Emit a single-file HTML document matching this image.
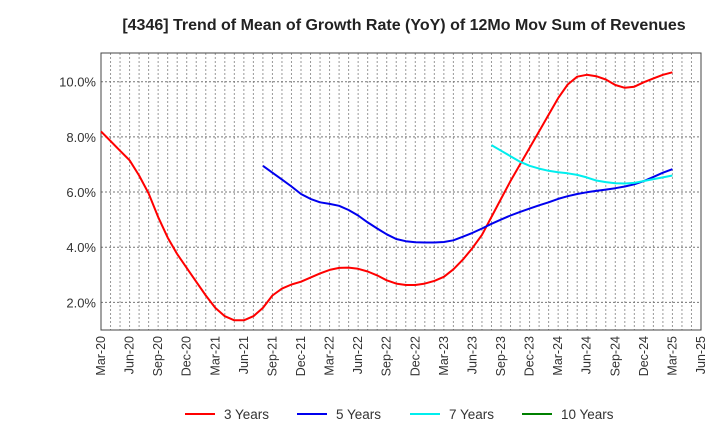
<!DOCTYPE html>
<html><head><meta charset="utf-8"><style>
body{margin:0;background:#fff;font-family:"Liberation Sans",sans-serif;}
svg text{font-family:"Liberation Sans",sans-serif;}
</style></head><body>
<svg id="c" width="720" height="440" xmlns="http://www.w3.org/2000/svg">
<text x="404" y="30" text-anchor="middle" font-size="16" font-weight="bold" fill="#222">[4346]  Trend of Mean of Growth Rate (YoY) of 12Mo Mov Sum of Revenues</text>
<g id="grid"></g><g id="axes"></g><g id="series"></g><g id="legend"></g>
</svg>
<script>
const xLabels=["Mar-20","Jun-20","Sep-20","Dec-20","Mar-21","Jun-21","Sep-21","Dec-21","Mar-22","Jun-22","Sep-22","Dec-22","Mar-23","Jun-23","Sep-23","Dec-23","Mar-24","Jun-24","Sep-24","Dec-24","Mar-25","Jun-25"];
const yTicks=[2,4,6,8,10];
const y3Start=0;
const y3=[8.2,7.85,7.5,7.15,6.6,5.95,5.1,4.35,3.75,3.25,2.75,2.25,1.8,1.5,1.35,1.35,1.5,1.8,2.25,2.5,2.65,2.75,2.9,3.05,3.18,3.25,3.26,3.22,3.12,2.98,2.8,2.68,2.63,2.63,2.68,2.78,2.93,3.2,3.55,3.97,4.45,5.1,5.75,6.4,7.0,7.6,8.2,8.8,9.4,9.9,10.18,10.25,10.2,10.08,9.88,9.78,9.82,9.98,10.12,10.25,10.34];
const y5Start=17;
const y5=[6.95,6.7,6.45,6.2,5.93,5.75,5.63,5.57,5.5,5.35,5.15,4.9,4.68,4.47,4.3,4.22,4.18,4.17,4.17,4.19,4.25,4.38,4.52,4.68,4.85,5.0,5.15,5.28,5.4,5.52,5.63,5.75,5.85,5.93,5.99,6.04,6.09,6.14,6.2,6.28,6.4,6.55,6.7,6.83];
const y7Start=41;
const y7=[7.7,7.5,7.3,7.1,6.95,6.85,6.77,6.72,6.68,6.62,6.53,6.42,6.36,6.32,6.31,6.33,6.4,6.47,6.53,6.6];
const y10Start=0;
const y10=[];
const L=101,R=701,T=53,B=330,YMIN=1.0,YMAX=11.04,NM=63;
const X=i=>L+(R-L)*i/NM;
const Y=v=>B-(B-T)*(v-YMIN)/(YMAX-YMIN);
const NS="http://www.w3.org/2000/svg";
function mk(t,a,p){const e=document.createElementNS(NS,t);for(const k in a)e.setAttribute(k,a[k]);p.appendChild(e);return e;}
const grid=document.getElementById('grid'),axes=document.getElementById('axes'),series=document.getElementById('series'),legend=document.getElementById('legend');
for(let m=1;m<NM;m++){const l=mk('line',{x1:X(m),x2:X(m),y1:T,y2:B,stroke:'#999','stroke-width':1,'stroke-dasharray':'2,2'},grid);

}
yTicks.forEach(v=>{const l=mk('line',{x1:L,x2:R,y1:Y(v),y2:Y(v),stroke:'#777','stroke-width':1,'stroke-dasharray':'2,2'},grid);


const t=mk('text',{x:L-5,y:Y(v)+5,'text-anchor':'end','font-size':13,fill:'#333'},axes);t.textContent=v.toFixed(1)+'%';

});
const fr=mk('rect',{x:L,y:T,width:R-L,height:B-T,fill:'none',stroke:'#444','stroke-width':1},axes);


xLabels.forEach((s,i)=>{const x=X(i*3);const t=mk('text',{x:0,y:0,'text-anchor':'end','font-size':12.5,fill:'#333',transform:`translate(${x+4},${B+6}) rotate(-90)`},axes);t.textContent=s;

});
function draw(arr,start,color,name){if(!arr.length)return;const p=arr.map((v,i)=>X(start+i).toFixed(1)+','+Y(v).toFixed(1)).join(' ');
const e=mk('polyline',{points:p,fill:'none',stroke:color,'stroke-width':2,'stroke-linejoin':'round'},series);

}
draw(y3,y3Start,'#ff0000','series-3-years');
draw(y5,y5Start,'#0000ee','series-5-years');
draw(y7,y7Start,'#00eeee','series-7-years');
draw(y10,y10Start,'#008000','series-10-years');
[["3 Years",'#ff0000',185],["5 Years",'#0000ee',297],["7 Years",'#00eeee',410],["10 Years",'#008000',522]].forEach(([s,c,x])=>{
const g=mk('g',{},legend);


mk('line',{x1:x,x2:x+30,y1:414,y2:414,stroke:c,'stroke-width':2},g);
const t=mk('text',{x:x+39,y:419,'font-size':13.5,fill:'#333'},g);t.textContent=s;});
</script>
</body></html>
